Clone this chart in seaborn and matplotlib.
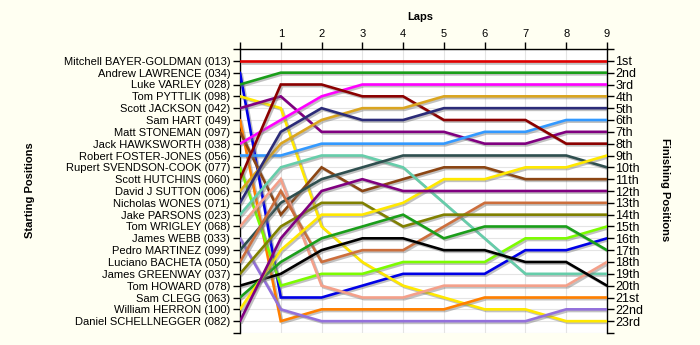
import matplotlib
matplotlib.use("Agg")
import matplotlib.pyplot as plt
import matplotlib.patheffects as pe
import seaborn as sns
import pandas as pd

# ---- data ----
laps = [0, 1, 2, 3, 4, 5, 6, 7, 8, 9]

drivers = [
    "Mitchell BAYER-GOLDMAN (013)", "Andrew LAWRENCE (034)", "Luke VARLEY (028)",
    "Tom PYTTLIK (098)", "Scott JACKSON (042)", "Sam HART (049)",
    "Matt STONEMAN (097)", "Jack HAWKSWORTH (038)", "Robert FOSTER-JONES (056)",
    "Rupert SVENDSON-COOK (077)", "Scott HUTCHINS (060)", "David J SUTTON (006)",
    "Nicholas WONES (071)", "Jake PARSONS (023)", "Tom WRIGLEY (068)",
    "James WEBB (033)", "Pedro MARTINEZ (099)", "Luciano BACHETA (050)",
    "James GREENWAY (037)", "Tom HOWARD (078)", "Sam CLEGG (063)",
    "William HERRON (100)", "Daniel SCHELLNEGGER (082)",
]

pos_bayer_goldman = [1, 1, 1, 1, 1, 1, 1, 1, 1, 1]
pos_lawrence = [2, 21, 21, 20, 19, 19, 19, 17, 17, 16]
pos_varley = [3, 2, 2, 2, 2, 2, 2, 2, 2, 2]
pos_pyttlik = [4, 5, 15, 18, 20, 21, 22, 22, 23, 23]
pos_jackson = [5, 4, 7, 7, 7, 7, 8, 8, 7, 7]
pos_hart = [6, 23, 22, 22, 22, 22, 21, 21, 21, 21]
pos_stoneman = [7, 14, 10, 12, 11, 10, 10, 11, 11, 11]
pos_hawksworth = [8, 6, 4, 3, 3, 3, 3, 3, 3, 3]
pos_foster_jones = [9, 9, 8, 8, 8, 8, 7, 7, 6, 6]
pos_svendson_cook = [10, 20, 19, 19, 18, 18, 18, 16, 16, 15]
pos_hutchins = [11, 3, 3, 4, 4, 6, 6, 6, 8, 8]
pos_sutton = [12, 8, 6, 5, 5, 4, 4, 4, 4, 4]
pos_wones = [13, 7, 5, 6, 6, 5, 5, 5, 5, 5]
pos_parsons = [14, 10, 9, 9, 10, 13, 16, 19, 19, 19]
pos_wrigley = [15, 11, 20, 21, 21, 20, 20, 20, 20, 18]
pos_webb = [16, 22, 23, 23, 23, 23, 23, 23, 22, 22]
pos_martinez = [17, 13, 11, 10, 9, 9, 9, 9, 9, 10]
pos_bacheta = [18, 12, 18, 17, 17, 15, 13, 13, 13, 13]
pos_greenway = [19, 15, 13, 13, 15, 14, 14, 14, 14, 14]
pos_howard = [20, 19, 17, 16, 16, 17, 17, 18, 18, 20]
pos_clegg = [21, 18, 16, 15, 14, 16, 15, 15, 15, 17]
pos_herron = [22, 17, 14, 14, 13, 11, 11, 10, 10, 9]
pos_schellnegger = [23, 16, 12, 11, 12, 12, 12, 12, 12, 12]

finish_labels = ["1st", "2nd", "3rd"] + [f"{i}th" for i in range(4, 21)] + ["21st", "22nd", "23rd"]
lap_labels = ["", "1", "2", "3", "4", "5", "6", "7", "8", "9"]

colors = [
    "#E00000", "#0000E6", "#1A9E1A", "#FFE800", "#800080", "#FF7F00",
    "#8B4513", "#FF00FF", "#3399FF", "#7CFC00", "#8B0000", "#DAA520",
    "#2B2B78", "#66CDAA", "#F4A08A", "#9370DB", "#2F4F4F", "#CC6E3C",
    "#808000", "#000000", "#1A9E1A", "#FFE800", "#800080",
]

all_pos = [pos_bayer_goldman, pos_lawrence, pos_varley, pos_pyttlik, pos_jackson,
           pos_hart, pos_stoneman, pos_hawksworth, pos_foster_jones, pos_svendson_cook,
           pos_hutchins, pos_sutton, pos_wones, pos_parsons, pos_wrigley, pos_webb,
           pos_martinez, pos_bacheta, pos_greenway, pos_howard, pos_clegg, pos_herron,
           pos_schellnegger]

rows = []
for d, p in zip(drivers, all_pos):
    for lap, v in zip(laps, p):
        rows.append({"driver": d, "lap": lap, "pos": v})
df = pd.DataFrame(rows)

# ---- style ----
sns.set_style("white")
plt.rcParams["font.family"] = ["Liberation Sans", "DejaVu Sans"]
plt.rcParams["text.color"] = "black"
plt.rcParams["xtick.color"] = "black"
plt.rcParams["ytick.color"] = "black"
plt.rcParams["axes.labelcolor"] = "black"
bg = "#FFFFF2"

fig = plt.figure(figsize=(7.0, 3.45), dpi=100, facecolor=bg)
ax = fig.add_axes([240 / 700, 1 - 333 / 345, 367 / 700, 284 / 345])
ax.set_facecolor("white")

sns.lineplot(data=df, x="lap", y="pos", hue="driver", hue_order=drivers,
             palette=dict(zip(drivers, colors)), estimator=None, sort=False,
             legend=False, linewidth=1.9, ax=ax, zorder=3)
for ln in ax.get_lines():
    ln.set_path_effects([pe.SimpleLineShadow(offset=(1.2, -1.2), shadow_color="#777777", alpha=0.45),
                         pe.Normal()])
    ln.set_solid_joinstyle("miter")

ax.set_xlim(0, 9)
ax.set_ylim(24, 0)
ax.set_xticks(laps)
ax.set_xticklabels(lap_labels, fontsize=8)
ax.xaxis.tick_top()
ax.set_yticks(range(25))
ax.set_yticklabels([""] + drivers + [""], fontsize=8)
ax.set_xlabel("")
ax.set_ylabel("")
ax.grid(True, color="#E4E4E4", linewidth=0.8, zorder=0)
ax.set_axisbelow(True)
ax.tick_params(axis="both", direction="out", length=5, width=1, colors="black", pad=2,
               top=True, bottom=False, left=True, labelleft=True)
for side in ["left", "right", "top"]:
    ax.spines[side].set_visible(True)
    ax.spines[side].set_color("black")
    ax.spines[side].set_linewidth(1)
ax.spines["bottom"].set_visible(False)

ax2 = ax.twinx()
ax2.set_ylim(24, 0)
ax2.set_yticks(range(25))
ax2.set_yticklabels([""] + finish_labels + [""], fontsize=9)
ax2.tick_params(axis="y", direction="out", length=5, width=1, colors="black", pad=1)
for side in ["left", "right", "top", "bottom"]:
    ax2.spines[side].set_visible(False)

fig.text(420 / 700, 1 - 17 / 345, "Laps", ha="center", va="center", fontsize=8,
         fontweight="bold", color="black")
fig.text(30 / 700, 1 - 190 / 345, "Starting Positions", ha="center", va="center",
         rotation=90, fontsize=8, fontweight="bold", color="black")
fig.text(665 / 700, 1 - 190 / 345, "Finishing Positions", ha="center", va="center",
         rotation=-90, fontsize=8, fontweight="bold", color="black")

fig.savefig("out.png", dpi=100, facecolor=bg)
